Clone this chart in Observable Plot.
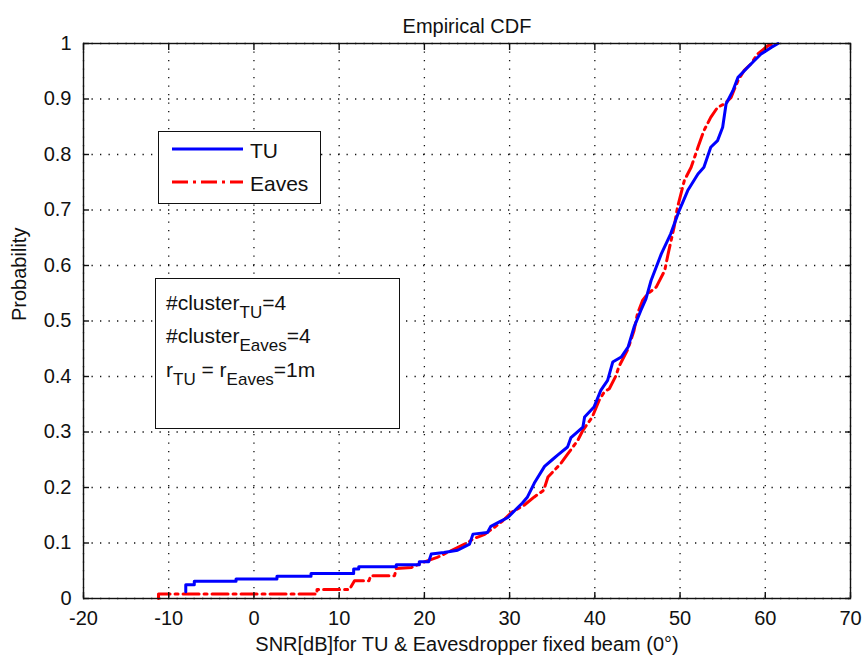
<!DOCTYPE html>
<html>
<head>
<meta charset="utf-8">
<script src="https://cdn.jsdelivr.net/npm/d3@7"></script>
<script src="https://cdn.jsdelivr.net/npm/@observablehq/plot@0.6"></script>
<style>
  body { margin: 0; background: #fff; }
  #chart { position: relative; width: 862px; height: 662px; font-family: "Liberation Sans", Arial, Helvetica, sans-serif; color: #111; }
  .box { position: absolute; background: #fff; border: 1.5px solid #111; box-sizing: border-box; }
  .txt { position: absolute; font-size: 21px; line-height: 21px; white-space: nowrap; }
  .txt .s { font-size: 17px; position: relative; top: 8px; }
</style>
</head>
<body>
<div id="chart"></div>
<script>
// Empirical CDF of SNR (dB) for the legitimate user (TU) and the eavesdropper.
// Points trace the staircase corners of each empirical CDF.
const tuSnr = [-8.0, -8.0, -7.0, -7.0, -2.1, -2.1, 2.7, 2.7, 6.7, 6.7, 11.7, 11.7, 12.3, 12.3, 16.7, 16.7,
  19.4, 19.4, 20.5, 20.8, 22.3, 23.9, 25.3, 25.7, 27.4, 27.8, 28.8, 29.8, 30.9, 31.5, 32.1, 32.9,
  34.1, 35.0, 35.6, 36.8, 37.2, 38.6, 38.8, 39.9, 40.7, 41.5, 42.1, 43.1, 43.9, 44.6, 45.4, 46.0,
  46.6, 47.8, 48.9, 49.9, 50.9, 52.1, 52.8, 53.6, 54.4, 55.0, 55.4, 56.2, 56.8, 57.8, 58.7, 59.5,
  60.7, 61.5];
const tuProb = [0.012, 0.025, 0.025, 0.031, 0.031, 0.035, 0.035, 0.040, 0.040, 0.045, 0.045, 0.053, 0.053, 0.057, 0.057, 0.061,
  0.061, 0.066, 0.066, 0.080, 0.083, 0.087, 0.098, 0.116, 0.119, 0.130, 0.138, 0.146, 0.163, 0.172, 0.183, 0.208,
  0.238, 0.250, 0.258, 0.273, 0.290, 0.309, 0.327, 0.345, 0.375, 0.393, 0.426, 0.435, 0.453, 0.489, 0.519, 0.540,
  0.573, 0.621, 0.657, 0.699, 0.735, 0.765, 0.777, 0.813, 0.825, 0.849, 0.891, 0.915, 0.939, 0.955, 0.969, 0.981,
  0.993, 1.0];

const evSnr = [-11.2, -11.2, 7.4, 7.4, 11.2, 11.8, 13.5, 13.7, 16.5, 16.7, 18.5, 20.0, 21.5, 23.1, 25.1, 25.8,
  27.0, 28.2, 29.2, 30.2, 31.7, 32.9, 34.0, 34.5, 36.0, 36.8, 38.0, 38.6, 39.7, 40.5, 41.1, 41.7,
  42.5, 42.8, 43.9, 44.6, 45.0, 45.6, 46.2, 47.2, 48.2, 48.6, 49.3, 49.7, 50.5, 51.3, 52.1, 52.8,
  53.6, 54.4, 55.2, 56.0, 56.3, 56.8, 57.5, 58.3, 59.1, 60.3, 61.1];
const evProb = [0.0, 0.008, 0.008, 0.016, 0.016, 0.032, 0.032, 0.041, 0.041, 0.054, 0.056, 0.066, 0.074, 0.086, 0.101, 0.108,
  0.115, 0.128, 0.140, 0.155, 0.168, 0.183, 0.195, 0.219, 0.243, 0.260, 0.285, 0.303, 0.327, 0.357, 0.372, 0.378,
  0.402, 0.417, 0.450, 0.483, 0.513, 0.537, 0.549, 0.561, 0.591, 0.621, 0.669, 0.705, 0.753, 0.777, 0.813, 0.843,
  0.867, 0.885, 0.891, 0.903, 0.915, 0.933, 0.951, 0.963, 0.981, 0.996, 1.0];

const seriesNames = ["TU", "Eaves"];
const xTicks = [-20, -10, 0, 10, 20, 30, 40, 50, 60, 70];
const yTicks = [0, 0.1, 0.2, 0.3, 0.4, 0.5, 0.6, 0.7, 0.8, 0.9, 1];

const titleText = "Empirical CDF";
const xLabel = "SNR[dB]for TU & Eavesdropper fixed beam (0°)";
const yLabel = "Probability";

const tu = tuSnr.map((x, i) => ({x, y: tuProb[i]}));
const ev = evSnr.map((x, i) => ({x, y: evProb[i]}));

const ink = "#111";
const fs = 20;
const dashDot = "16,5,3,5";
const tickFmt = d => String(+d.toFixed(1));
const noText = () => "";

const plot = Plot.plot({
  width: 862,
  height: 662,
  marginLeft: 83,
  marginRight: 12,
  marginTop: 43,
  marginBottom: 64,
  style: {fontFamily: '"Liberation Sans", Arial, Helvetica, sans-serif', background: "#fff", color: ink},
  x: {domain: [-20, 70], label: null},
  y: {domain: [0, 1], label: null},
  marks: [
    Plot.gridX({ticks: xTicks, stroke: ink, strokeOpacity: 1, strokeWidth: 1.3, strokeDasharray: "1.3,7.2"}),
    Plot.gridY({ticks: yTicks, stroke: ink, strokeOpacity: 1, strokeWidth: 1.3, strokeDasharray: "1.3,7.2"}),
    Plot.line(ev, {x: "x", y: "y", stroke: "#ff0000", strokeWidth: 3, strokeDasharray: dashDot}),
    Plot.line(tu, {x: "x", y: "y", stroke: "#0000ff", strokeWidth: 3}),
    Plot.frame({stroke: ink, strokeWidth: 1.4}),
    // inward ticks on all four sides
    Plot.axisX({anchor: "bottom", ticks: xTicks, tickSize: 6, dy: -6, tickFormat: noText, label: null, stroke: ink, strokeWidth: 1.4}),
    Plot.axisX({anchor: "top", ticks: xTicks, tickSize: 6, dy: 6, tickFormat: noText, label: null, stroke: ink, strokeWidth: 1.4}),
    Plot.axisY({anchor: "left", ticks: yTicks, tickSize: 6, dx: 6, tickFormat: noText, label: null, stroke: ink, strokeWidth: 1.4}),
    Plot.axisY({anchor: "right", ticks: yTicks, tickSize: 6, dx: -6, tickFormat: noText, label: null, stroke: ink, strokeWidth: 1.4}),
    // tick labels
    Plot.axisX({anchor: "bottom", ticks: xTicks, tickSize: 0, tickPadding: 12, fontSize: fs, fill: ink, tickFormat: tickFmt, label: null}),
    Plot.axisY({anchor: "left", ticks: yTicks, tickSize: 0, tickPadding: 12, fontSize: fs, fill: ink, tickFormat: tickFmt, label: null}),
    Plot.text([titleText], {text: d => d, frameAnchor: "top", dy: -25, fontSize: fs, fill: ink}),
    Plot.text([xLabel], {text: d => d, frameAnchor: "bottom", dy: 52, fontSize: fs, fill: ink}),
    Plot.text([yLabel], {text: d => d, frameAnchor: "left", dx: -64, rotate: -90, fontSize: fs, fill: ink})
  ]
});

const chart = document.getElementById("chart");
chart.appendChild(plot);

// Legend box
const legend = document.createElement("div");
legend.className = "box";
Object.assign(legend.style, {left: "158px", top: "131px", width: "163px", height: "73px"});
chart.appendChild(legend);

const legendSvg = d3.create("svg")
  .attr("width", 862).attr("height", 662)
  .style("position", "absolute").style("left", "0px").style("top", "0px")
  .style("pointer-events", "none");
const legendRows = [
  {name: seriesNames[0], color: "#0000ff", dash: null, y: 149},
  {name: seriesNames[1], color: "#ff0000", dash: dashDot, y: 182}
];
for (const r of legendRows) {
  legendSvg.append("line")
    .attr("x1", 172).attr("x2", 243).attr("y1", r.y).attr("y2", r.y)
    .attr("stroke", r.color).attr("stroke-width", 3)
    .attr("stroke-dasharray", r.dash);
  legendSvg.append("text")
    .attr("x", 250).attr("y", r.y + 9)
    .attr("font-size", 21).attr("fill", ink)
    .attr("font-family", '"Liberation Sans", Arial, sans-serif')
    .text(r.name);
}

// Annotation box with cluster settings
const note = document.createElement("div");
note.className = "box";
Object.assign(note.style, {left: "155px", top: "278px", width: "245px", height: "151px"});
chart.appendChild(note);

const lines = [
  {top: 292, html: '#cluster<span class="s">TU</span>=4'},
  {top: 325, html: '#cluster<span class="s">Eaves</span>=4'},
  {top: 359, html: 'r<span class="s">TU</span> = r<span class="s">Eaves</span>=1m'}
];
for (const l of lines) {
  const d = document.createElement("div");
  d.className = "txt";
  d.style.left = "166px";
  d.style.top = l.top + "px";
  d.innerHTML = l.html;
  chart.appendChild(d);
}
chart.appendChild(legendSvg.node());
</script>
</body>
</html>
